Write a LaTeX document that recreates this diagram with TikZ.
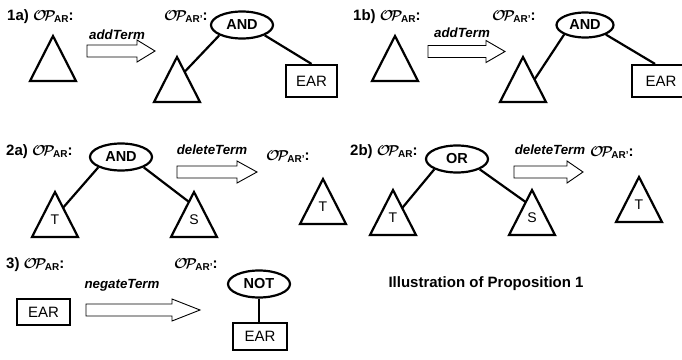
\documentclass[tikz,border=0pt]{standalone}
\usepackage{amsmath}
\usepackage{fontspec}
\setmainfont{Liberation Sans}
\usetikzlibrary{shapes.geometric,calc}

\newcommand\opx[1]{{\fontsize{15}{15}\selectfont$\boldsymbol{\mathcal{O}\mkern-4mu\mathcal{P}}$}\kern-1.5pt{\fontsize{10}{10}\selectfont\bfseries\raisebox{-2pt}{AR#1}}{\fontsize{15}{15}\selectfont\bfseries :}}

% triangle: name, apex x, apex y, label, right-edge fraction, left-edge fraction
\newcommand\tri[6]{%
  \coordinate (#1) at (#2,#3);
  \draw[tri] (#1) -- ++(-23,45) -- ++(46,0) -- cycle;
  \node[trilbl] (#1-t) at ($(#1)+(0,28)$) {#4};
  \coordinate (#1-r) at ($(#1)+(23*#5,45*#5)$);
  \coordinate (#1-l) at ($(#1)+(-23*#6,45*#6)$);
}
% block arrow: x start, head start, tip, y mid
\newcommand\barrow[4]{%
  \draw[blockarr] (#1,#4-6) -- (#2,#4-6) -- (#2,#4-11) -- (#3,#4) -- (#2,#4+11) -- (#2,#4+6) -- (#1,#4+6) -- cycle;
}

\begin{document}
\begin{tikzpicture}[x=1pt,y=-1pt,
  opnode/.style={ellipse,draw,line width=2.2pt,minimum width=62pt,minimum height=27pt,inner sep=0pt,font=\fontsize{14.5}{14.5}\selectfont\bfseries},
  boxnode/.style={rectangle,draw,line width=2.2pt,inner sep=0pt,font=\fontsize{15}{15}\selectfont},
  edge/.style={line width=2.2pt},
  tri/.style={line width=2.2pt,line join=miter},
  trilbl/.style={inner sep=0pt,font=\fontsize{14}{14}\selectfont},
  blockarr/.style={line width=0.9pt},
  lbl/.style={font=\fontsize{15}{15}\selectfont\bfseries,anchor=west,inner sep=0pt},
  act/.style={font=\fontsize{13.3}{13.3}\selectfont\bfseries\itshape,inner sep=0pt}]
\useasboundingbox (0,0) rectangle (682,359);
\clip (0,0) rectangle (682,359);

% ---------- 1a ----------
\node[lbl] (l1a) at (7,17) {1a) \opx{}};
\tri{t1a}{53}{36}{}{0.33}{0.3}
\node[act] (a1a) at (117,35) {addTerm};
\barrow{87}{137}{155}{51}
\node[lbl] (o1a) at (164,17) {\opx{'}};
\node[opnode] (and1) at (242,25) {AND};
\tri{t1s}{177}{57}{}{0.33}{0.3}
\node[boxnode,minimum width=51pt,minimum height=32pt] (ear1) at (311.5,81) {EAR};
\draw[edge] (and1.south west) -- (t1s-r);
\draw[edge] (and1.south east) -- (ear1.north);

% ---------- 1b ----------
\node[lbl] (l1b) at (353,17) {1b) \opx{}};
\tri{t1b}{395}{36}{}{0.33}{0.3}
\node[act] (a1b) at (462,33) {addTerm};
\barrow{428}{486}{505}{51.5}
\node[lbl] (o1b) at (492,17) {\opx{'}};
\node[opnode,minimum width=57pt,minimum height=25pt] (and2) at (585,25) {AND};
\tri{t1bs}{523}{57}{}{0.5}{0.3}
\node[boxnode,minimum width=58pt,minimum height=32pt] (ear2) at (661,81) {EAR\hspace{14pt}};
\draw[edge] (and2.south west) -- (t1bs-r);
\draw[edge] (and2.south east) -- ($(ear2.north)+(-6,0)$);

% ---------- 2a ----------
\node[lbl] (l2a) at (6,152) {2a) \opx{}};
\node[opnode] (and3) at (121,157) {AND};
\tri{t2aT}{55}{192}{T}{0.35}{0.3}
\tri{t2aS}{194}{192}{S}{0.3}{0.22}
\draw[edge] (and3.south west) -- (t2aT-r);
\draw[edge] (and3.south east) -- (t2aS-l);
\node[act] (a2a) at (212,150) {deleteTerm};
\barrow{177}{237}{257}{172}
\node[lbl] (o2a) at (266,157) {\opx{'}};
\tri{t2aR}{323}{179}{T}{0.3}{0.3}

% ---------- 2b ----------
\node[lbl] (l2b) at (350,152) {2b) \opx{}};
\node[opnode] (or1) at (457,159) {OR};
\tri{t2bT}{393}{190}{T}{0.4}{0.3}
\tri{t2bS}{532}{190}{S}{0.3}{0.27}
\draw[edge] (or1.south west) -- (t2bT-r);
\draw[edge] (or1.south east) -- (t2bS-l);
\node[act] (a2b) at (550,150) {deleteTerm};
\barrow{514}{567}{583}{172}
\node[lbl] (o2b) at (590,153) {\opx{'}};
\tri{t2bR}{639}{177}{T}{0.3}{0.3}

% ---------- 3 ----------
\node[lbl] (l3) at (6,265) {3) \opx{}};
\node[boxnode,minimum width=53pt,minimum height=26pt] (ear3a) at (43.5,312) {EAR};
\node[act] (a3) at (122,285) {negateTerm};
\barrow{86}{172}{200}{310}
\node[lbl] (o3) at (174,265) {\opx{'}};
\node[opnode] (not1) at (259,284) {NOT};
\node[boxnode,minimum width=54pt,minimum height=27pt] (ear3b) at (260,336.5) {EAR};
\draw[edge] (not1.south) -- (not1.south |- ear3b.north);

% ---------- title ----------
\node[font=\fontsize{15}{15}\selectfont\bfseries] (title) at (486,284) {Illustration of Proposition 1};
\end{tikzpicture}
\end{document}
